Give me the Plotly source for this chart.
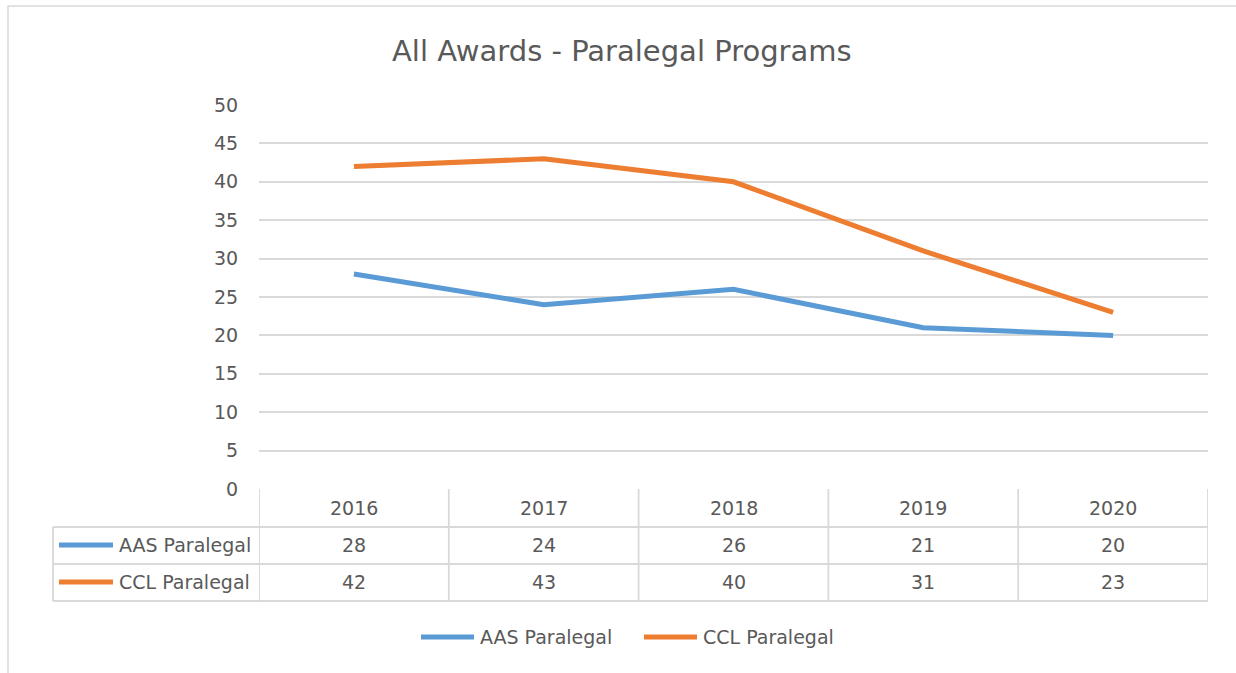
import plotly.graph_objects as go

years = ["2016", "2017", "2018", "2019", "2020"]
aas_paralegal = [28, 24, 26, 21, 20]
ccl_paralegal = [42, 43, 40, 31, 23]
series_names = ["AAS Paralegal", "CCL Paralegal"]
series_colors = ["#5B9BD5", "#ED7D31"]
y_ticks = [0, 5, 10, 15, 20, 25, 30, 35, 40, 45, 50]

W, H = 1236, 673
FONT = "DejaVu Sans"
TXT = "#595959"
GRID = "#D9D9D9"


def px(x):
    return x / W


def py(y):
    return 1 - y / H


fig = go.Figure()
for name, vals, col in zip(series_names, [aas_paralegal, ccl_paralegal], series_colors):
    fig.add_trace(go.Scatter(x=list(range(len(years))), y=vals, mode="lines", name=name,
                             line=dict(color=col, width=5), showlegend=False,
                             customdata=years, hovertemplate="%{customdata}: %{y}<extra>" + name + "</extra>"))

shapes = []
annotations = []


def txt(x, y, text, size, xref="paper", xanchor="center"):
    annotations.append(dict(x=x, xref=xref, y=py(y), yref="paper", text=text,
                            xanchor=xanchor, yanchor="middle", showarrow=False,
                            font=dict(family=FONT, size=size, color=TXT)))


# outer chart border
shapes.append(dict(type="rect", xref="paper", yref="paper", x0=px(8), x1=1.02,
                   y0=-0.02, y1=py(6), line=dict(color=GRID, width=1.5)))

# data table horizontal lines
for yy in [527, 564, 601]:
    shapes.append(dict(type="line", xref="paper", yref="paper", x0=px(53), x1=px(1208),
                       y0=py(yy), y1=py(yy), line=dict(color=GRID, width=1.8)))
# data table vertical lines (column boundaries on the category scale)
for i in range(len(years) + 1):
    shapes.append(dict(type="line", xref="x", yref="paper", x0=i - 0.5, x1=i - 0.5,
                       y0=py(601), y1=py(489), line=dict(color=GRID, width=1.8)))
shapes.append(dict(type="line", xref="paper", yref="paper", x0=px(53), x1=px(53),
                   y0=py(601), y1=py(527), line=dict(color=GRID, width=1.8)))

# header row
for i, yr in enumerate(years):
    txt(i, 508, yr, 19, xref="x")
# value rows with legend keys
for r, (name, vals, col) in enumerate(zip(series_names, [aas_paralegal, ccl_paralegal], series_colors)):
    yc = [545, 582][r]
    for i, v in enumerate(vals):
        txt(i, yc, str(v), 19, xref="x")
    shapes.append(dict(type="line", xref="paper", yref="paper", x0=px(59), x1=px(113),
                       y0=py(yc), y1=py(yc), line=dict(color=col, width=5)))
    txt(px(117), yc, name, 19, xanchor="left")

# bottom legend
for name, col, x0 in zip(series_names, series_colors, [421, 644]):
    shapes.append(dict(type="line", xref="paper", yref="paper", x0=px(x0), x1=px(x0 + 53),
                       y0=py(637), y1=py(637), line=dict(color=col, width=5)))
    txt(px(x0 + 57), 637, name, 19, xanchor="left")

# title
txt(px(622), 51, "All Awards - Paralegal Programs", 29)

fig.update_layout(
    width=W, height=H,
    margin=dict(l=0, r=0, t=0, b=0),
    paper_bgcolor="white", plot_bgcolor="white",
    showlegend=False,
    xaxis=dict(domain=[px(259), px(1208)], range=[-0.5, 4.5], showticklabels=False,
               showgrid=False, zeroline=False, showline=False, fixedrange=True,
               automargin=False),
    yaxis=dict(domain=[py(489), py(105)], range=[0, 50], tickvals=y_ticks,
               showgrid=True, gridcolor=GRID, gridwidth=1.5, zeroline=False,
               showline=False, ticks="outside", ticklen=16, tickcolor="rgba(0,0,0,0)",
               tickfont=dict(family=FONT, size=19, color=TXT), fixedrange=True,
               automargin=False),
    shapes=shapes,
    annotations=annotations,
)

fig.write_html("out.html", config={"displayModeBar": False},
               post_script="document.body.style.margin='0';")
